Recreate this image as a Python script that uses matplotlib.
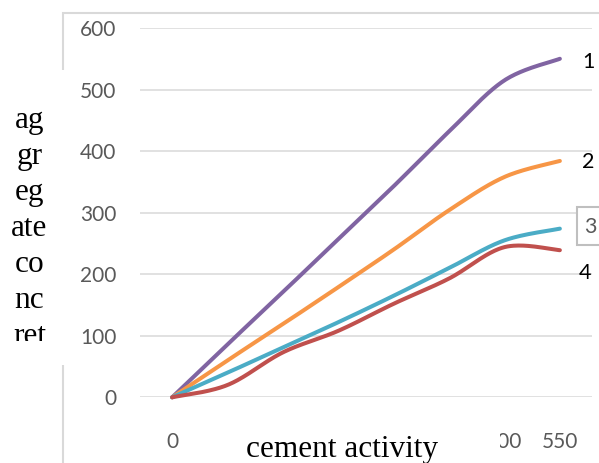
import numpy as np
import matplotlib
matplotlib.use("Agg")
import matplotlib.pyplot as plt
from matplotlib.patches import Rectangle

# ---- data ----
categories = ["0", "100", "200", "300", "400", "450", "500", "550"]
series_names = ["1", "2", "3", "4"]
s1 = [0, 86, 171, 257, 343, 432, 515, 550]
s2 = [0, 60, 119, 179, 240, 304, 358, 384]
s3 = [0, 40, 81, 122, 165, 210, 255, 274]
s4 = [0, 20, 73, 108, 152, 193, 244, 239]
y_ticks = [0, 100, 200, 300, 400, 500, 600]
ylabel_lines = ["ag", "gr", "eg", "ate", "co", "nc", "ret"]
xlabel = "cement activity"

colors = ["#8064A2", "#F79646", "#4BACC6", "#C0504D"]

W, H = 599, 463


def fx(px):
    return px / W


def fy(py):
    return 1 - py / H


def excel_smooth(yvals, n=40):
    x = np.arange(len(yvals), dtype=float)
    y = np.asarray(yvals, dtype=float)
    P = np.column_stack([x, y])
    out = []
    m = len(P)
    for i in range(m - 1):
        p0 = P[i - 1] if i > 0 else P[i]
        p1 = P[i]
        p2 = P[i + 1]
        p3 = P[i + 2] if i + 2 < m else P[i + 1]
        c1 = p1 + (p2 - p0) / 6.0
        c2 = p2 - (p3 - p1) / 6.0
        t = np.linspace(0, 1, n)[:, None]
        seg = ((1 - t) ** 3) * p1 + 3 * ((1 - t) ** 2) * t * c1 + 3 * (1 - t) * t ** 2 * c2 + t ** 3 * p2
        out.append(seg if i == 0 else seg[1:])
    pts = np.vstack(out)
    return pts[:, 0], pts[:, 1]


fig = plt.figure(figsize=(W / 100, H / 100), dpi=100)
fig.patch.set_facecolor("white")

# outer chart frame
fig.patches.append(Rectangle((fx(63), fy(480)), fx(620) - fx(63), fy(13) - fy(480),
                             transform=fig.transFigure, fill=False,
                             edgecolor="#D9D9D9", linewidth=1.5, zorder=0.5))

ax = fig.add_axes([fx(140), fy(397.3), fx(592) - fx(140), fy(28) - fy(397.3)])
ax.set_zorder(1)
xi = np.arange(len(categories))
ax.set_xlim(-0.58, len(categories) - 1 + 0.58)
ax.set_ylim(0, 600)
ax.set_yticks(y_ticks)
ax.set_xticks(xi)
ax.set_xticklabels(categories)
for sp in ax.spines.values():
    sp.set_visible(False)
ax.grid(axis="y", color="#D9D9D9", linewidth=1.1)
ax.set_axisbelow(True)
ax.tick_params(axis="both", length=0, colors="#595959", labelsize=15)
ax.tick_params(axis="y", pad=17)
ax.tick_params(axis="x", pad=25)
xlabs = ax.get_xticklabels()
for lab in xlabs + ax.get_yticklabels():
    lab.set_fontfamily("Lato")
# the middle category labels are hidden behind the axis-title box
for lab in xlabs[1:-2]:
    lab.set_visible(False)

for vals, c in zip([s1, s2, s3, s4], colors):
    sx, sy = excel_smooth(vals)
    ax.plot(sx, sy, color=c, linewidth=2.9, solid_capstyle="round", clip_on=False)

# series labels
fig.text(fx(588), fy(62), series_names[0], fontsize=15.5, family="Lato",
         ha="center", va="center", color="black")
fig.text(fx(588), fy(162), series_names[1], fontsize=15.5, family="Lato",
         ha="center", va="center", color="black")
fig.patches.append(Rectangle((fx(577), fy(245)), fx(640) - fx(577), fy(207) - fy(245),
                             transform=fig.transFigure, facecolor="white",
                             edgecolor="#BFBFBF", linewidth=1.5, zorder=3))
fig.text(fx(590), fy(227), series_names[2], fontsize=15.5, family="Lato",
         ha="center", va="center", color="#595959", zorder=4)
fig.text(fx(585), fy(273), series_names[3], fontsize=15.5, family="Lato",
         ha="center", va="center", color="black")

# x-axis title box (white, covers middle tick labels)
fig.patches.append(Rectangle((fx(188), fy(470)), fx(500) - fx(188), fy(424) - fy(470),
                             transform=fig.transFigure, facecolor="white",
                             edgecolor="none", zorder=5))
fig.text(fx(341.5), fy(456.5), xlabel, fontsize=22.5, family="Liberation Serif",
         ha="center", va="baseline", color="black", zorder=6)

# y-axis title box (white, clips text)
yax = fig.add_axes([fx(0), fy(341), fx(66) - fx(0), fy(70) - fy(341)])
yax.set_zorder(3)
yax.set_facecolor("white")
yax.set_xticks([])
yax.set_yticks([])
for sp in yax.spines.values():
    sp.set_visible(False)
yax.set_xlim(0, 66)
yax.set_ylim(341, 70)
for k, t in enumerate(ylabel_lines):
    yax.text(29.5, 128 + 36 * k, t, fontsize=22.5, family="Liberation Serif",
             ha="center", va="baseline", color="black", clip_on=True)
# extra white area below clipped text (covers frame line)
fig.patches.append(Rectangle((fx(0), fy(365)), fx(66), fy(341) - fy(365),
                             transform=fig.transFigure, facecolor="white",
                             edgecolor="none", zorder=5))

fig.savefig("out.png", dpi=100)
